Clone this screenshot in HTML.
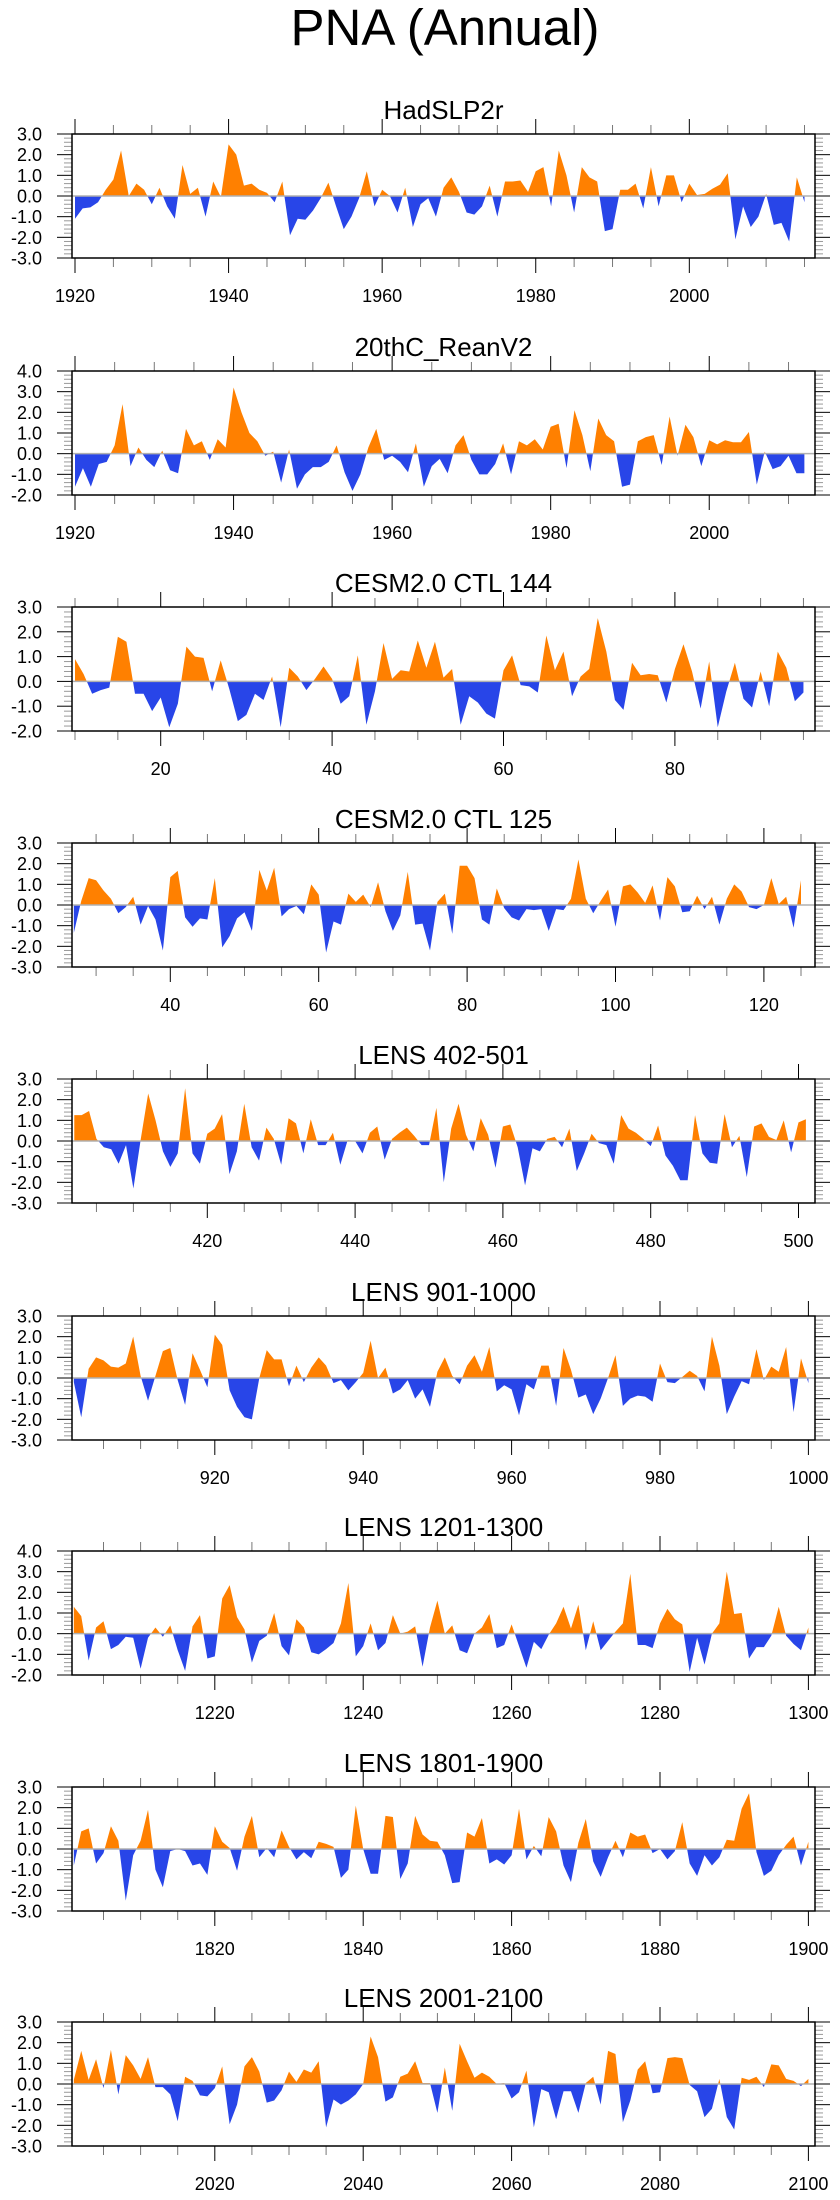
<!DOCTYPE html>
<html><head><meta charset="utf-8"><style>
html,body{margin:0;padding:0;background:#fff;}
svg{display:block;font-family:"Liberation Sans",Arial,sans-serif;}
</style></head><body>
<svg id="chart" width="840" height="2200" viewBox="0 0 840 2200">
<text x="445" y="45" font-size="51" text-anchor="middle" fill="#000">PNA (Annual)</text>
</svg>
<script>
const titles=["HadSLP2r","20thC_ReanV2","CESM2.0 CTL 144","CESM2.0 CTL 125","LENS 402-501","LENS 901-1000","LENS 1201-1300","LENS 1801-1900","LENS 2001-2100"];
const startYears=[1920,1920,10,27,402,901,1201,1801,2001];
const yMins=[-3,-2,-2,-3,-3,-3,-2,-3,-3];
const yMaxs=[3,4,3,3,3,3,4,3,3];
const xTickLabels=[[1920,1940,1960,1980,2000],[1920,1940,1960,1980,2000],[20,40,60,80],[40,60,80,100,120],[420,440,460,480,500],[920,940,960,980,1000],[1220,1240,1260,1280,1300],[1820,1840,1860,1880,1900],[2020,2040,2060,2080,2100]];
const hadslp=[-1.1,-0.6,-0.55,-0.3,0.3,0.8,2.2,0.0,0.6,0.3,-0.4,0.4,-0.5,-1.1,1.5,0.1,0.4,-1.0,0.7,-0.05,2.5,2.0,0.5,0.6,0.3,0.15,-0.3,0.7,-1.9,-1.1,-1.15,-0.7,-0.1,0.65,-0.5,-1.6,-1.0,-0.1,1.2,-0.5,0.3,0.0,-0.8,0.4,-1.5,-0.4,-0.1,-1.0,0.4,0.9,0.2,-0.8,-0.9,-0.5,0.5,-1.0,0.7,0.7,0.75,0.2,1.2,1.4,-0.5,2.2,1.0,-0.8,1.4,0.9,0.7,-1.7,-1.6,0.3,0.3,0.6,-0.6,1.4,-0.5,1.0,1.0,-0.3,0.6,0.05,0.1,0.35,0.55,1.1,-2.1,-0.5,-1.5,-1.0,0.1,-1.4,-1.3,-2.2,0.9,-0.3];
const rean20c=[-1.6,-0.7,-1.6,-0.5,-0.4,0.4,2.4,-0.6,0.3,-0.3,-0.65,0.15,-0.8,-0.95,1.2,0.4,0.6,-0.3,0.7,0.3,3.2,2.0,1.0,0.6,-0.1,0.1,-1.4,0.2,-1.7,-1.0,-0.65,-0.65,-0.4,0.4,-0.9,-1.8,-1.0,0.3,1.2,-0.3,-0.1,-0.4,-0.9,0.5,-1.6,-0.6,-0.25,-0.95,0.4,0.9,-0.3,-1.0,-1.0,-0.5,0.5,-1.0,0.6,0.4,0.7,0.2,1.3,1.45,-0.7,2.1,0.9,-0.85,1.7,0.9,0.6,-1.6,-1.5,0.6,0.8,0.9,-0.55,1.8,-0.1,1.4,0.8,-0.6,0.65,0.45,0.65,0.55,0.55,1.05,-1.5,0.1,-0.75,-0.6,-0.1,-0.95,-0.95];
const ctl144=[0.9,0.3,-0.5,-0.35,-0.25,1.8,1.6,-0.5,-0.5,-1.2,-0.65,-1.85,-0.9,1.4,1.0,0.95,-0.4,0.85,-0.3,-1.6,-1.35,-0.5,-0.75,0.2,-1.85,0.55,0.2,-0.35,0.1,0.6,0.1,-0.9,-0.6,1.05,-1.75,-0.4,1.55,0.1,0.45,0.4,1.65,0.55,1.6,0.15,0.5,-1.75,-0.6,-0.85,-1.3,-1.5,0.45,1.05,-0.15,-0.2,-0.45,1.85,0.45,1.2,-0.6,0.2,0.5,2.55,1.2,-0.75,-1.15,0.75,0.25,0.3,0.25,-0.85,0.5,1.5,0.4,-1.1,0.8,-1.85,-0.4,0.75,-0.7,-1.05,0.4,-1.0,1.2,0.55,-0.8,-0.45];
const ctl125=[-1.35,0.2,1.3,1.2,0.7,0.3,-0.4,-0.1,0.4,-0.95,-0.05,-0.7,-2.2,1.35,1.65,-0.6,-1.05,-0.65,-0.7,1.3,-2.05,-1.5,-0.65,-0.35,-1.25,1.7,0.7,1.8,-0.55,-0.2,-0.05,-0.45,1.0,0.5,-2.3,-0.8,-0.95,0.55,0.15,0.5,-0.1,1.1,-0.3,-1.25,-0.5,1.6,-0.95,-0.9,-2.2,0.15,0.55,-1.4,1.9,1.9,1.3,-0.7,-0.95,0.8,-0.15,-0.6,-0.75,-0.2,-0.25,-0.2,-1.25,-0.2,-0.25,0.3,2.2,0.3,-0.4,0.2,0.75,-1.05,0.9,1.0,0.6,0.1,0.95,-0.75,1.35,0.9,-0.35,-0.3,0.45,-0.2,0.4,-0.95,0.3,1.0,0.65,-0.1,-0.2,0.0,1.3,0.05,0.4,-1.1,1.2];
const lens402=[1.25,1.25,1.45,0.1,-0.3,-0.4,-1.1,-0.2,-2.3,0.1,2.3,1.0,-0.5,-1.25,-0.6,2.55,-0.6,-1.1,0.35,0.6,1.3,-1.6,-0.5,1.8,-0.3,-0.95,0.65,0.1,-1.15,1.1,0.85,-0.6,1.05,-0.2,-0.2,0.4,-1.15,0.05,0.0,-0.6,0.4,0.7,-0.9,0.1,0.4,0.65,0.25,-0.2,-0.2,1.6,-2.0,0.6,1.8,0.3,-0.5,1.1,0.3,-1.3,0.7,0.8,-0.3,-2.15,-0.35,-0.5,0.1,0.2,-0.3,0.6,-1.45,-0.6,0.35,-0.1,-0.2,-1.1,1.25,0.6,0.4,0.1,-0.25,0.75,-0.7,-1.2,-1.9,-1.9,1.25,-0.6,-1.05,-1.1,1.3,-0.3,0.25,-1.75,0.7,0.85,0.2,0.05,1.0,-0.55,0.9,1.05];
const lens901=[-0.2,-1.9,0.45,1.0,0.85,0.55,0.5,0.7,2.0,0.1,-1.1,0.1,1.3,1.45,-0.1,-1.3,1.2,0.4,-0.45,2.1,1.6,-0.6,-1.4,-1.9,-2.0,0.0,1.35,0.9,0.9,-0.4,0.6,-0.2,0.5,1.0,0.6,-0.25,-0.1,-0.6,-0.2,0.25,1.8,0.0,0.5,-0.75,-0.55,-0.1,-1.0,-0.55,-1.4,0.3,1.0,0.1,-0.3,0.6,1.1,0.3,1.5,-0.65,-0.35,-0.55,-1.8,-0.3,-0.55,0.6,0.6,-1.35,1.45,0.4,-0.95,-0.8,-1.75,-1.0,0.0,1.1,-1.35,-1.0,-0.85,-0.9,-1.15,0.7,-0.2,-0.25,0.05,0.35,0.1,-0.65,2.0,0.6,-1.75,-0.9,-0.15,-0.3,1.4,-0.1,0.55,0.3,1.5,-1.65,0.95,-0.25];
const lens1201=[1.3,0.85,-1.3,0.3,0.6,-0.75,-0.55,-0.15,-0.2,-1.7,-0.2,0.3,-0.15,0.4,-0.8,-1.8,0.35,0.9,-1.2,-1.1,1.7,2.35,0.8,0.2,-1.4,-0.35,-0.1,1.0,-0.6,-1.05,0.7,0.3,-0.9,-1.0,-0.75,-0.45,0.5,2.45,-1.1,-0.6,0.5,-0.8,-0.45,0.9,0.0,0.1,0.35,-1.6,0.3,1.6,0.0,0.4,-0.8,-0.95,0.0,0.3,0.95,-0.7,-0.55,0.45,-0.6,-1.65,-0.4,-0.75,-0.05,0.5,1.3,0.25,1.4,-0.8,0.6,-0.8,-0.35,0.1,0.5,2.9,-0.55,-0.55,-0.7,0.5,1.2,0.7,0.45,-1.85,-0.2,-1.5,0.0,0.5,3.0,0.95,1.0,-1.2,-0.65,-0.65,-0.1,1.3,-0.1,-0.5,-0.8,0.3];
const lens1801=[-0.8,0.85,1.0,-0.7,-0.2,1.1,0.4,-2.5,-0.3,0.4,1.9,-1.0,-1.85,-0.1,0.0,-0.1,-0.8,-0.7,-1.25,1.1,0.35,0.05,-1.05,0.6,1.6,-0.4,0.05,-0.4,0.9,0.1,-0.5,-0.15,-0.45,0.35,0.25,0.1,-1.4,-1.0,2.1,0.0,-1.2,-1.2,1.6,1.55,-1.45,-0.7,1.6,0.7,0.4,0.35,-0.3,-1.65,-1.6,0.8,0.6,1.5,-0.7,-0.5,-0.75,-0.3,1.95,-0.5,0.15,-0.35,1.55,0.85,-0.8,-1.6,0.3,1.45,-0.6,-1.35,-0.4,0.4,-0.4,0.8,0.6,0.7,-0.2,0.0,-0.5,-0.1,1.3,-0.7,-1.3,-0.3,-0.8,-0.4,0.45,0.4,1.95,2.7,-0.15,-1.3,-1.05,-0.3,0.2,0.6,-0.8,0.35];
const lens2001=[0.2,1.6,0.2,1.2,-0.2,1.65,-0.5,1.4,0.9,0.25,1.3,-0.15,-0.15,-0.5,-1.8,0.35,0.15,-0.55,-0.6,-0.2,0.85,-1.95,-1.0,0.85,1.3,0.6,-0.9,-0.8,-0.3,0.6,0.1,0.7,0.55,1.1,-2.1,-0.75,-1.0,-0.8,-0.5,0.0,2.3,1.3,-0.85,-0.65,0.35,0.5,1.1,0.05,0.05,-1.4,0.8,-1.3,1.95,1.1,0.3,0.55,0.35,0.0,0.05,-0.7,-0.4,0.65,-2.1,-0.25,-0.4,-1.7,-0.35,-0.35,-1.4,0.05,0.35,-1.0,1.6,1.45,-1.85,-0.8,0.7,1.1,-0.45,-0.4,1.25,1.3,1.25,-0.05,-0.35,-1.6,-1.2,0.25,-1.6,-2.2,0.3,0.2,0.35,-0.15,0.95,0.9,0.25,0.15,-0.1,0.25];
const seriesList=[hadslp,rean20c,ctl144,ctl125,lens402,lens901,lens1201,lens1801,lens2001];

// layout (not data)
const boxTops=[134,371,607,843,1079,1316,1551,1787,2022];
const refX=[75,75,160.7,170.3,207.3,214.8,214.8,214.8,214.8];
const refYearOffset=[0,0,10,13,18,19,19,19,19];
const pxPerYear=[7.679,7.928,8.57,7.42,7.39,7.42,7.42,7.42,7.42];
const BL=72,BR=815,BH=124;
const NS="http://www.w3.org/2000/svg";
const svg=document.getElementById('chart');
function mk(tag,attrs,parent){const e=document.createElementNS(NS,tag);for(const k in attrs)e.setAttribute(k,attrs[k]);(parent||svg).appendChild(e);return e;}

for(let p=0;p<9;p++){
  const top=boxTops[p],bot=top+BH;
  const ymin=yMins[p],ymax=yMaxs[p];
  const x0year=startYears[p]+refYearOffset[p]-(startYears[p]===1920?0:0);
  const refYear=(p<2)?1920:xTickLabels[p][0];
  const xs=y=>refX[p]+(y-refYear)*pxPerYear[p];
  const ys=v=>bot-(v-ymin)/(ymax-ymin)*BH;
  const g=mk('g',{});
  
  
  const t=mk('text',{x:(BL+BR)/2,y:top-15,'font-size':26,'text-anchor':'middle',fill:'#000'},g);
  t.textContent=titles[p];
  
  
  const data=seriesList[p];
  const y0=ys(0);
  let pts=data.map((v,i)=>xs(startYears[p]+i).toFixed(2)+','+ys(v).toFixed(2));
  const xa=xs(startYears[p]),xb=xs(startYears[p]+data.length-1);
  const poly='M'+xa.toFixed(2)+','+y0+' L'+pts.join(' L')+' L'+xb.toFixed(2)+','+y0+' Z';
  const cpA='cpa'+p,cpB='cpb'+p;
  const defs=mk('defs',{},g);
  const c1=mk('clipPath',{id:cpA},defs);mk('rect',{x:0,y:top,width:840,height:y0-top},c1);
  const c2=mk('clipPath',{id:cpB},defs);mk('rect',{x:0,y:y0,width:840,height:bot-y0},c2);
  const pos=mk('path',{d:poly,fill:'#FF8000','clip-path':'url(#'+cpA+')'},g);
  
  
  const neg=mk('path',{d:poly,fill:'#2845E8','clip-path':'url(#'+cpB+')'},g);
  
  
  const zl=mk('line',{x1:BL,x2:BR,y1:y0,y2:y0,stroke:'#b0b0b0','stroke-width':1.5},g);
  
  
  // y ticks
  for(let v=ymin;v<=ymax+1e-6;v+=0.2){
    const yy=ys(v);const maj=Math.abs(v-Math.round(v))<1e-6;
    const col=maj?'#000':'#999';const L=maj?15:8;
    mk('line',{x1:BL-L,x2:BL,y1:yy,y2:yy,stroke:col,'stroke-width':1},g);
    mk('line',{x1:BR,x2:BR+L,y1:yy,y2:yy,stroke:col,'stroke-width':1},g);
    if(maj){const lt=mk('text',{x:42,y:yy+6.5,'font-size':18,'text-anchor':'end',fill:'#000'},g);
      lt.textContent=Math.round(v).toFixed(1);
      
      }
  }
  // x ticks
  const yrL=refYear+(BL-refX[p])/pxPerYear[p],yrR=refYear+(BR-refX[p])/pxPerYear[p];
  for(let yr=Math.ceil(yrL/5)*5;yr<=yrR;yr+=5){
    const xx=xs(yr);const maj=yr%20===0;const L=maj?15:9;const col=maj?'#000':'#777';
    mk('line',{x1:xx,x2:xx,y1:top-L,y2:top,stroke:col,'stroke-width':1},g);
    mk('line',{x1:xx,x2:xx,y1:bot,y2:bot+L,stroke:col,'stroke-width':1},g);
  }
  xTickLabels[p].forEach(yr=>{
    const xl=mk('text',{x:xs(yr),y:bot+44,'font-size':18,'text-anchor':'middle',fill:'#000'},g);
    xl.textContent=yr;
    
    
  });
  const box=mk('rect',{x:BL,y:top,width:BR-BL,height:BH,fill:'none',stroke:'#000','stroke-width':1.5},g);
  
  
}
</script>
</body></html>
